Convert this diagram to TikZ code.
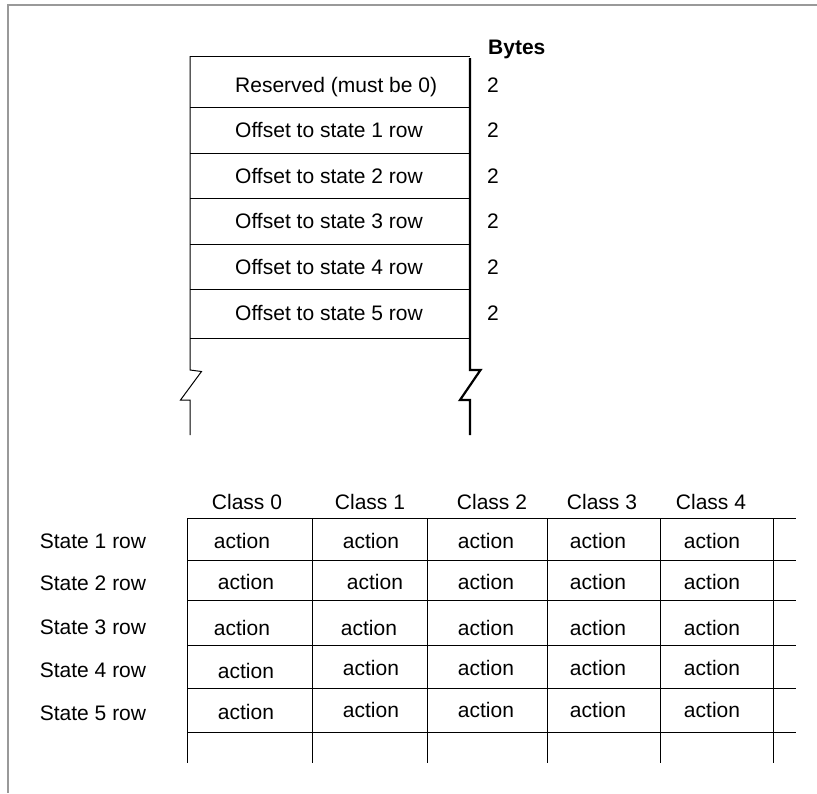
\documentclass[tikz,border=0pt]{standalone}
\usepackage{fontspec}
\setmainfont{Liberation Sans}
\begin{document}
\begin{tikzpicture}[x=1pt,y=-1pt,
  txt/.style={font=\fontsize{21}{24}\selectfont, inner sep=0pt, text height=15pt, text depth=0pt},
  thin line/.style={line width=1pt, black},
  thick line/.style={line width=2.2pt, black},
  frame/.style={line width=1.2pt, black!40}]
\useasboundingbox (0,0) rectangle (817,793);
% frame
\draw[frame] (817,5) -- (8,5) -- (8,793);
% upper box
\draw[thin line] (190,56) -- (470,56);
\foreach \y in {107,153,198,244,289,338} \draw[thin line] (190,\y) -- (470,\y);
\draw[thin line] (190,56) -- (190,370) -- (201.5,371.5) -- (180.5,400) -- (190,400) -- (190,435);
\draw[thick line] (470,58) -- (470,370) -- (480.5,370) -- (460,400) -- (470,400) -- (470,435);
\node[txt, font=\fontsize{21}{24}\selectfont\bfseries, anchor=west] (bytes) at (488,47) {Bytes};
\node[txt, anchor=west] (r0) at (235,85) {Reserved (must be 0)};
\node[txt, anchor=west] (r1) at (235,130) {Offset to state 1 row};
\node[txt, anchor=west] (r2) at (235,176) {Offset to state 2 row};
\node[txt, anchor=west] (r3) at (235,221) {Offset to state 3 row};
\node[txt, anchor=west] (r4) at (235,267) {Offset to state 4 row};
\node[txt, anchor=west] (r5) at (235,313) {Offset to state 5 row};
\foreach \y/\n in {85/0,130/1,176/2,221/3,267/4,313/5}
  \node[txt, anchor=west] (b\n) at (487,\y) {2};
% table
\foreach \y in {518,560,600,645,688,732} \draw[thin line] (187,\y) -- (796,\y);
\foreach \x in {187,312,427,547,660,773} \draw[thin line] (\x,518) -- (\x,763);
\foreach \x/\n in {247/0,370/1,492/2,602/3,711/4}
  \node[txt] (c\n) at (\x,502) {Class \n};
\foreach \y/\n in {541/1,583/2,627/3,670/4,713/5}
  \node[txt] (s\n) at (93,\y) {State \n\ row};
% actions
\foreach \x/\y/\n in {
  242/541/a10,371/541/a11,486/541/a12,598/541/a13,712/541/a14,
  246/582/a20,375/582/a21,486/582/a22,598/582/a23,712/582/a24,
  242/628/a30,369/628/a31,486/628/a32,598/628/a33,712/628/a34,
  246/671/a40,371/668/a41,486/668/a42,598/668/a43,712/668/a44,
  246/712/a50,371/710/a51,486/710/a52,598/710/a53,712/710/a54}
  \node[txt] (\n) at (\x,\y) {action};
\end{tikzpicture}
\end{document}
